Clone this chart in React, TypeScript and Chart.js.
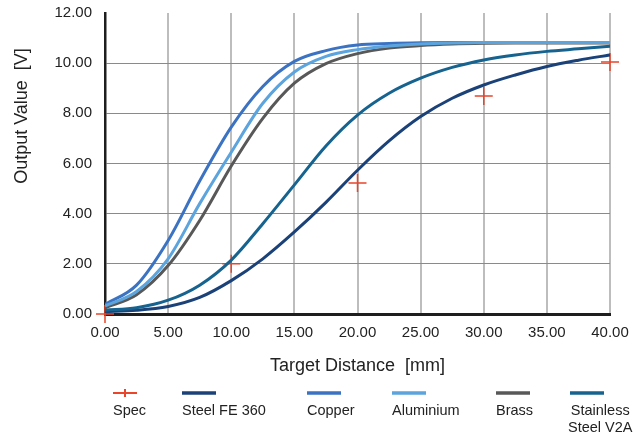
import React, { useEffect, useRef } from "react";
import { Chart, registerables } from "chart.js";

Chart.register(...registerables);

const distances = [0, 2.5, 5, 7.5, 10, 12.5, 15, 17.5, 20, 22.5, 25, 27.5, 30, 32.5, 35, 37.5, 40];
const steelFe360 = [0.1, 0.15, 0.3, 0.66, 1.33, 2.2, 3.27, 4.45, 5.73, 6.9, 7.87, 8.6, 9.13, 9.53, 9.87, 10.12, 10.33];
const copper = [0.38, 1.15, 2.93, 5.3, 7.45, 9.07, 10.07, 10.5, 10.72, 10.78, 10.81, 10.82, 10.82, 10.82, 10.82, 10.82, 10.82];
const aluminium = [0.32, 0.9, 2.2, 4.4, 6.45, 8.4, 9.65, 10.27, 10.54, 10.68, 10.76, 10.8, 10.82, 10.82, 10.82, 10.82, 10.82];
const brass = [0.25, 0.77, 1.93, 3.73, 5.9, 7.8, 9.2, 9.98, 10.38, 10.6, 10.7, 10.76, 10.79, 10.8, 10.8, 10.8, 10.8];
const stainlessV2A = [0.15, 0.25, 0.55, 1.15, 2.15, 3.6, 5.15, 6.7, 7.93, 8.8, 9.4, 9.83, 10.13, 10.33, 10.47, 10.57, 10.67];
const specX = [0, 10, 20, 30, 40];
const specY = [0, 2, 5.22, 8.69, 10.05];

const xTitle = "Target Distance  [mm]";
const yTitle = "Output Value  [V]";

const COLORS = {
  spec: "#e9452b",
  steel: "#1b4278",
  copper: "#3b73c2",
  aluminium: "#5ba4dd",
  brass: "#585858",
  stainless: "#16638f",
};

const FONT = "'Liberation Sans', Arial, Helvetica, sans-serif";

const legendItems = [
  { label: ["Spec"], color: COLORS.spec, x: 113, w: 24, spec: true },
  { label: ["Steel FE 360"], color: COLORS.steel, x: 182, w: 34 },
  { label: ["Copper"], color: COLORS.copper, x: 307, w: 34 },
  { label: ["Aluminium"], color: COLORS.aluminium, x: 392, w: 34 },
  { label: ["Brass"], color: COLORS.brass, x: 496, w: 34 },
  { label: ["Stainless", "Steel V2A"], color: COLORS.stainless, x: 570, w: 34 },
];

const pts = (ys: number[]) => distances.map((x, i) => ({ x, y: ys[i] }));

const decorPlugin = {
  id: "decor",
  afterDraw(chart: any) {
    const ctx = chart.ctx;
    ctx.save();
    ctx.fillStyle = "#222";
    ctx.font = `18px ${FONT}`;
    ctx.textAlign = "center";
    ctx.textBaseline = "middle";
    ctx.translate(22, 116);
    ctx.rotate(-Math.PI / 2);
    ctx.fillText(yTitle, 0, 0);
    ctx.restore();

    ctx.save();
    const symY = 393;
    const textY = 411;
    const lineH = 16.5;
    ctx.font = `14.5px ${FONT}`;
    ctx.textBaseline = "middle";
    legendItems.forEach((it) => {
      ctx.strokeStyle = it.color;
      if (it.spec) {
        ctx.lineWidth = 2;
        ctx.beginPath();
        ctx.moveTo(it.x, symY);
        ctx.lineTo(it.x + it.w, symY);
        ctx.moveTo(it.x + it.w / 2, symY - 4);
        ctx.lineTo(it.x + it.w / 2, symY + 4);
        ctx.stroke();
      } else {
        ctx.lineWidth = 3.5;
        ctx.beginPath();
        ctx.moveTo(it.x, symY);
        ctx.lineTo(it.x + it.w, symY);
        ctx.stroke();
      }
      ctx.fillStyle = "#222";
      if (it.label.length === 1) {
        ctx.textAlign = "left";
        ctx.fillText(it.label[0], it.x, textY);
      } else {
        const maxW = Math.max(...it.label.map((l) => ctx.measureText(l).width));
        const cx = it.x - 2 + maxW / 2;
        ctx.textAlign = "center";
        it.label.forEach((l, i) => ctx.fillText(l, cx, textY + i * lineH));
      }
    });
    ctx.restore();
  },
};

export default function App() {
  const ref = useRef<HTMLCanvasElement | null>(null);

  useEffect(() => {
    document.body.style.margin = "0";
    if (!ref.current) return;
    const line = (label: string, data: number[], color: string) => ({
      label,
      data: pts(data),
      borderColor: color,
      backgroundColor: color,
      borderWidth: 3,
      pointRadius: 0,
      fill: false,
      cubicInterpolationMode: "monotone" as const,
    });
    const chart = new Chart(ref.current, {
      type: "line",
      data: {
        datasets: [
          line("Aluminium", aluminium, COLORS.aluminium),
          line("Copper", copper, COLORS.copper),
          line("Brass", brass, COLORS.brass),
          line("Stainless Steel V2A", stainlessV2A, COLORS.stainless),
          line("Steel FE 360", steelFe360, COLORS.steel),
          {
            label: "Spec",
            data: specX.map((x, i) => ({ x, y: specY[i] })),
            showLine: false,
            pointStyle: "cross",
            pointRadius: 9,
            pointBorderWidth: 1.5,
            borderColor: COLORS.spec,
            backgroundColor: COLORS.spec,
            clip: false,
          } as any,
        ],
      },
      options: {
        animation: false,
        responsive: false,
        devicePixelRatio: 1,
        layout: { padding: { top: 13, right: 25, bottom: 60, left: 0 } },
        plugins: { legend: { display: false }, tooltip: { enabled: false } },
        scales: {
          x: {
            type: "linear",
            min: 0,
            max: 40,
            afterFit: (s: any) => {
              s.height = 63;
              s.paddingLeft = 0;
              s.paddingRight = 0;
            },
            ticks: {
              stepSize: 5,
              padding: 10,
              color: "#222",
              font: { family: FONT, size: 15 },
              callback: (v: any) => Number(v).toFixed(2),
            },
            grid: { color: "#bdbdbd", lineWidth: 2, drawTicks: false },
            border: { color: "#1e1e1e", width: 3 },
            title: {
              display: true,
              text: xTitle,
              color: "#222",
              font: { family: FONT, size: 18 },
              padding: { top: 0, bottom: 0 },
            },
          },
          y: {
            type: "linear",
            min: 0,
            max: 12,
            afterFit: (s: any) => {
              s.width = 105;
              s.paddingTop = 0;
              s.paddingBottom = 0;
            },
            ticks: {
              stepSize: 2,
              padding: 13,
              color: "#222",
              font: { family: FONT, size: 15 },
              callback: (v: any) => Number(v).toFixed(2),
            },
            grid: {
              color: (c: any) => (c.tick && c.tick.value >= 12 ? "rgba(0,0,0,0)" : "#8a8a8a"),
              lineWidth: 1,
              drawTicks: false,
            },
            border: { color: "#1e1e1e", width: 2.5 },
          },
        },
      },
      plugins: [decorPlugin],
    });
    return () => chart.destroy();
  }, []);

  return (
    <div style={{ width: 635, height: 437, background: "#fff" }}>
      <canvas ref={ref} width={635} height={437} style={{ display: "block" }} />
    </div>
  );
}
